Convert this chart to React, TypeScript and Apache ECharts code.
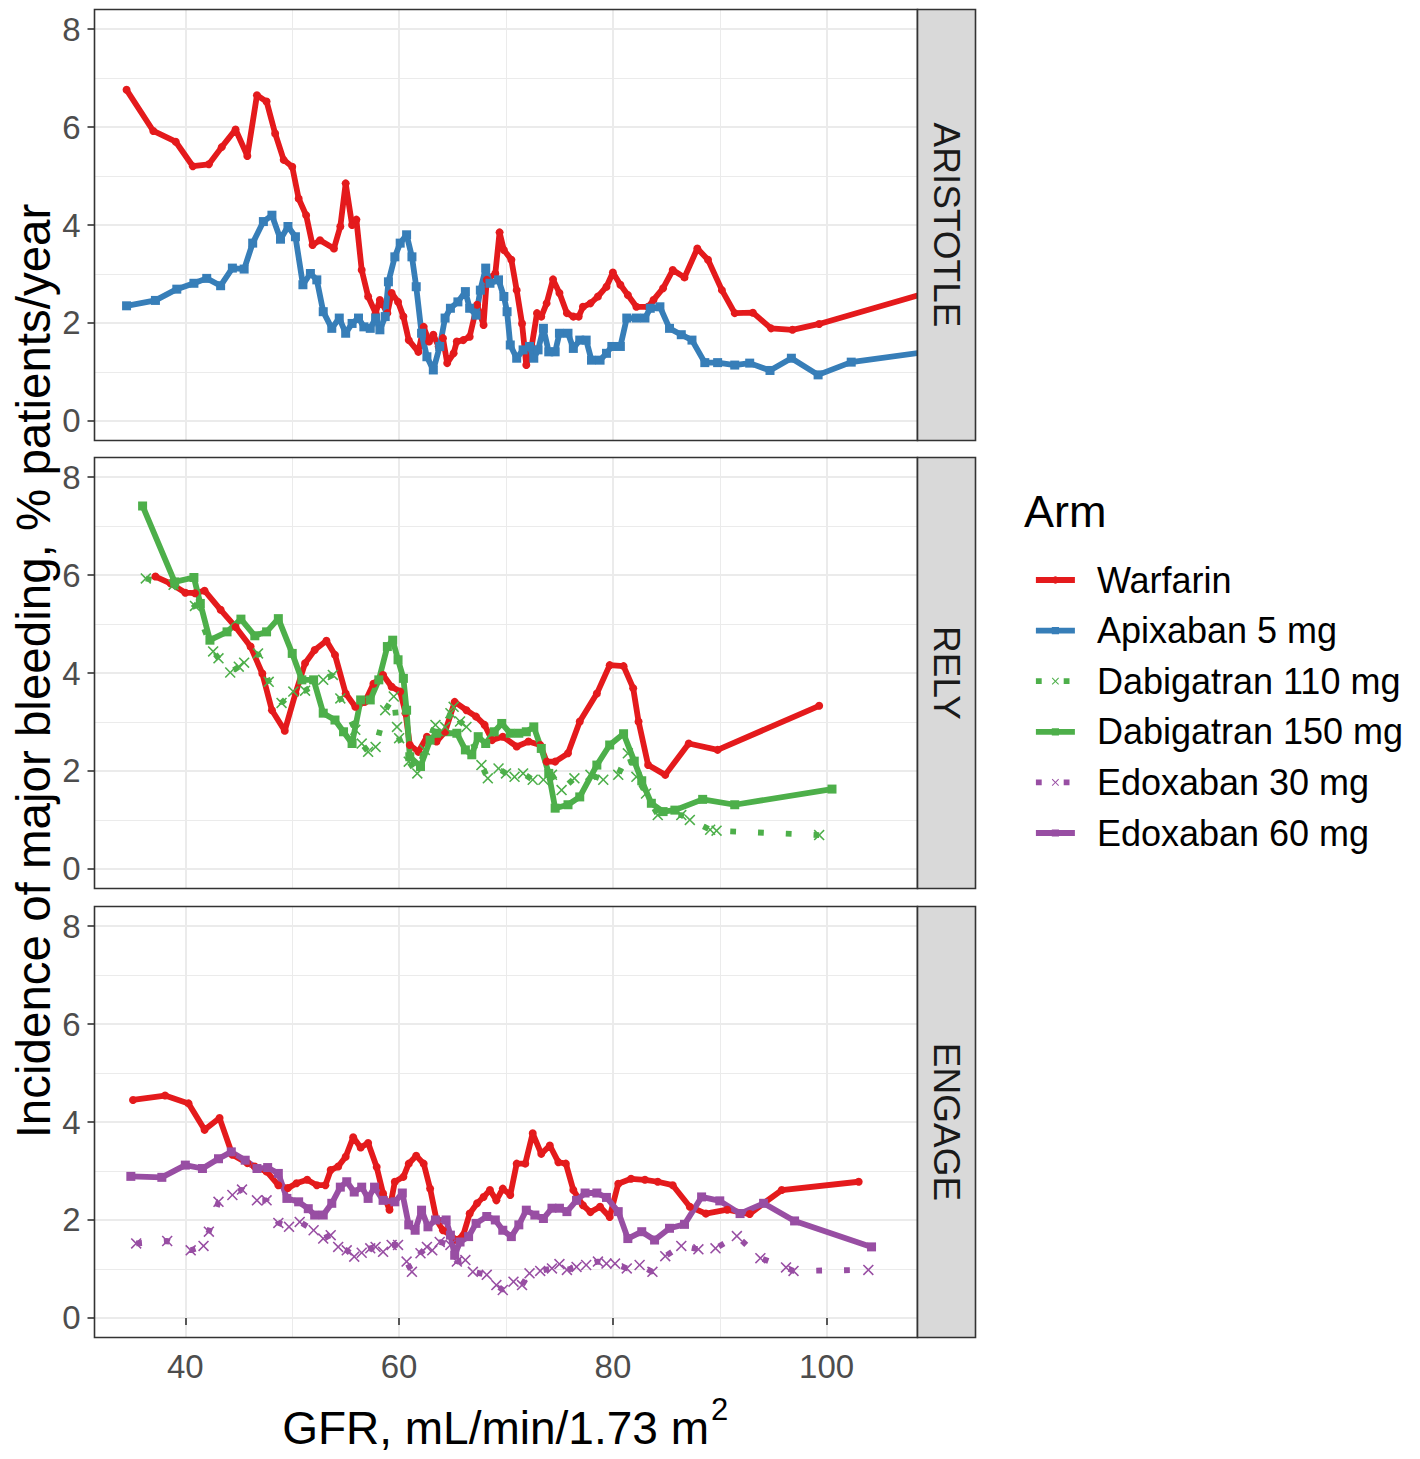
import React, { useEffect, useRef } from 'react';
import * as echarts from 'echarts';

const FONT = '"Liberation Sans", Arial, Helvetica, sans-serif';

// axis ranges (coord limits with 5% expansion) and ticks
const X_MIN = 31.5;
const X_MAX = 108.5;
const Y_MIN = -0.4;
const Y_MAX = 8.4;
const xTicks = [40, 60, 80, 100];
const yTicks = [0, 2, 4, 6, 8];

const panels = ['ARISTOTLE', 'RELY', 'ENGAGE'];
const arms = ['Warfarin', 'Apixaban 5 mg', 'Dabigatran 110 mg', 'Dabigatran 150 mg', 'Edoxaban 30 mg', 'Edoxaban 60 mg'];

// ---------- data: [GFR, incidence] ----------
const aristotleWarfarin = [
  [34.5, 6.76], [37.0, 5.92], [39.1, 5.70], [40.7, 5.20], [42.2, 5.24], [43.4, 5.59], [44.7, 5.95], [45.8, 5.41],
  [46.7, 6.65], [47.6, 6.52], [48.4, 5.87], [49.2, 5.33], [50.0, 5.19], [50.6, 4.54], [51.3, 4.20], [51.9, 3.59],
  [52.6, 3.69], [53.9, 3.52], [54.5, 3.97], [55.0, 4.85], [55.6, 4.00], [56.0, 4.11], [56.5, 3.08], [57.1, 2.54],
  [57.8, 2.20], [58.2, 2.47], [58.9, 2.20], [59.3, 2.61], [59.9, 2.43], [60.4, 2.13], [60.9, 1.65], [61.8, 1.41],
  [62.3, 1.92], [62.8, 1.62], [63.2, 1.76], [63.7, 1.52], [64.1, 1.69], [64.5, 1.18], [65.1, 1.38], [65.4, 1.62],
  [66.0, 1.65], [66.6, 1.72], [67.3, 2.37], [67.9, 1.96], [68.2, 2.88], [69.0, 3.01], [69.4, 3.85], [69.8, 3.49],
  [70.5, 3.29], [71.0, 2.67], [71.5, 1.99], [71.9, 1.14], [72.4, 1.52], [72.9, 2.20], [73.3, 2.13], [73.8, 2.40],
  [74.4, 2.89], [75.0, 2.61], [75.7, 2.20], [76.3, 2.13], [76.8, 2.13], [77.2, 2.33], [77.9, 2.40], [78.6, 2.54],
  [79.4, 2.74], [80.0, 3.03], [80.7, 2.78], [81.4, 2.57], [82.2, 2.33], [83.3, 2.33], [83.8, 2.47], [84.7, 2.71],
  [85.6, 3.08], [86.7, 2.93], [87.9, 3.52], [88.9, 3.29], [90.2, 2.67], [91.4, 2.20], [93.1, 2.21], [94.8, 1.89],
  [96.8, 1.86], [99.3, 1.98], [112.0, 2.78],
];
const aristotleApixaban = [
  [34.5, 2.35], [37.2, 2.46], [39.2, 2.69], [40.8, 2.81], [42.0, 2.91], [43.3, 2.76], [44.4, 3.12], [45.5, 3.10],
  [46.3, 3.63], [47.3, 4.07], [48.1, 4.20], [48.9, 3.71], [49.6, 3.97], [50.3, 3.76], [51.0, 2.78], [51.7, 3.01],
  [52.3, 2.88], [52.9, 2.23], [53.7, 1.89], [54.4, 2.10], [55.0, 1.79], [55.6, 1.99], [56.2, 2.10], [56.7, 1.92],
  [57.3, 1.89], [57.8, 2.10], [58.2, 1.86], [58.7, 2.13], [59.0, 2.84], [59.6, 3.35], [60.1, 3.63], [60.7, 3.80],
  [61.2, 3.35], [61.6, 2.74], [62.1, 1.79], [62.6, 1.31], [63.2, 1.04], [63.8, 1.52], [64.3, 2.10], [64.8, 2.30],
  [65.5, 2.43], [66.2, 2.64], [66.6, 2.30], [67.2, 2.16], [67.6, 2.67], [68.1, 3.12], [68.5, 2.81], [69.3, 2.88],
  [69.8, 2.54], [70.1, 2.23], [70.4, 1.55], [71.0, 1.28], [71.6, 1.45], [72.2, 1.52], [72.6, 1.28], [73.0, 1.45],
  [73.5, 1.89], [74.0, 1.41], [74.6, 1.41], [75.0, 1.79], [75.8, 1.79], [76.3, 1.48], [76.9, 1.65], [77.5, 1.65],
  [78.0, 1.24], [78.8, 1.24], [79.4, 1.38], [79.9, 1.52], [80.7, 1.52], [81.3, 2.10], [82.2, 2.10], [83.0, 2.10],
  [83.5, 2.30], [84.4, 2.33], [85.3, 1.89], [86.4, 1.76], [87.4, 1.65], [88.6, 1.19], [89.8, 1.19], [91.4, 1.14],
  [92.8, 1.18], [94.7, 1.03], [96.7, 1.28], [99.2, 0.94], [102.3, 1.20], [112.0, 1.49],
];
const relyWarfarin = [
  [37.2, 5.97], [38.6, 5.83], [40.0, 5.64], [40.9, 5.63], [41.8, 5.68], [43.3, 5.29], [44.7, 4.94], [46.1, 4.54],
  [47.2, 3.99], [48.1, 3.24], [49.3, 2.82], [50.3, 3.58], [51.2, 4.20], [52.1, 4.47], [53.2, 4.66], [54.0, 4.37],
  [55.0, 3.58], [55.9, 3.31], [56.8, 3.41], [57.6, 3.78], [58.5, 3.96], [59.3, 3.72], [60.1, 3.62], [60.6, 3.18],
  [61.0, 2.53], [61.8, 2.39], [62.6, 2.70], [63.5, 2.60], [64.3, 2.80], [65.2, 3.41], [66.3, 3.24], [67.2, 3.11],
  [68.0, 2.94], [68.7, 2.63], [69.7, 2.70], [71.0, 2.50], [72.1, 2.60], [73.2, 2.53], [73.8, 2.19], [74.6, 2.19],
  [75.8, 2.36], [76.9, 3.01], [78.5, 3.58], [79.7, 4.16], [81.0, 4.14], [81.9, 3.69], [82.4, 3.01], [83.3, 2.12],
  [84.9, 1.92], [87.1, 2.56], [89.8, 2.43], [99.3, 3.33],
];
const relyDabigatran110 = [
  [36.3, 5.93], [38.9, 5.80], [40.9, 5.37], [42.6, 4.44], [43.1, 4.30], [44.2, 4.01], [45.0, 4.13], [45.5, 4.21],
  [46.8, 4.40], [47.8, 3.82], [49.0, 3.39], [50.1, 3.62], [51.2, 3.64], [52.9, 3.86], [53.8, 3.96], [54.5, 3.48],
  [55.9, 2.84], [56.5, 2.56], [57.1, 2.39], [57.8, 2.49], [58.7, 3.24], [59.5, 3.52], [59.8, 2.90], [60.0, 2.67],
  [60.9, 2.19], [61.7, 1.95], [62.4, 2.43], [63.4, 2.94], [64.3, 2.90], [64.8, 3.18], [65.1, 3.31], [65.7, 3.01],
  [66.3, 2.90], [67.7, 2.12], [68.3, 1.85], [69.3, 2.05], [70.0, 1.95], [70.8, 1.88], [71.6, 1.95], [72.5, 1.82],
  [73.5, 1.82], [74.3, 1.92], [75.2, 1.61], [76.4, 1.85], [77.9, 1.92], [79.1, 1.82], [80.5, 1.92], [81.4, 2.36],
  [82.2, 1.88], [83.1, 1.54], [84.2, 1.10], [86.4, 1.10], [87.2, 1.00], [89.1, 0.80], [89.7, 0.78], [99.3, 0.69],
];
const relyDabigatran150 = [
  [36.0, 7.41], [39.0, 5.86], [40.8, 5.95], [41.4, 5.42], [42.3, 4.67], [43.9, 4.84], [45.2, 5.10], [46.5, 4.76],
  [47.6, 4.84], [48.7, 5.11], [50.0, 4.40], [50.9, 3.86], [52.0, 3.86], [52.9, 3.18], [54.0, 3.04], [54.8, 2.80],
  [55.6, 2.56], [56.4, 3.45], [57.3, 3.45], [58.1, 3.86], [58.9, 4.54], [59.4, 4.67], [59.9, 4.27], [60.4, 3.89],
  [60.7, 3.24], [61.0, 2.29], [62.0, 2.09], [62.9, 2.63], [63.5, 2.77], [65.4, 2.77], [66.2, 2.43], [66.8, 2.33],
  [67.4, 2.70], [68.1, 2.56], [68.9, 2.80], [69.6, 2.97], [70.4, 2.77], [71.2, 2.77], [71.9, 2.80], [72.6, 2.90],
  [73.3, 2.46], [74.0, 1.95], [74.6, 1.24], [75.8, 1.31], [76.9, 1.47], [78.5, 2.12], [79.7, 2.53], [81.0, 2.76],
  [82.0, 2.20], [82.7, 1.80], [83.6, 1.34], [84.7, 1.17], [85.8, 1.20], [88.4, 1.42], [91.4, 1.31], [100.5, 1.63],
];
const engageWarfarin = [
  [35.1, 4.45], [38.1, 4.54], [40.3, 4.38], [41.8, 3.84], [43.2, 4.08], [44.4, 3.33], [45.8, 3.16], [46.5, 3.09],
  [47.6, 2.99], [48.7, 2.71], [49.6, 2.65], [50.4, 2.75], [51.4, 2.82], [52.3, 2.71], [53.1, 2.71], [53.6, 3.02],
  [54.3, 3.09], [55.0, 3.29], [55.7, 3.69], [56.4, 3.48], [57.1, 3.57], [57.9, 3.08], [58.5, 2.54], [59.1, 2.21],
  [59.6, 2.78], [60.4, 2.88], [60.9, 3.15], [61.6, 3.31], [62.3, 3.15], [62.9, 2.64], [63.5, 2.00], [64.1, 1.79],
  [64.8, 1.69], [65.4, 1.59], [66.0, 1.69], [66.6, 2.13], [67.3, 2.34], [67.9, 2.47], [68.5, 2.61], [69.1, 2.40],
  [69.7, 2.64], [70.4, 2.51], [71.0, 3.15], [71.8, 3.15], [72.5, 3.77], [73.3, 3.35], [74.1, 3.52], [74.9, 3.18],
  [75.6, 3.15], [76.3, 2.61], [77.2, 2.30], [77.9, 2.16], [78.8, 2.27], [79.7, 2.06], [80.5, 2.74], [81.7, 2.84],
  [83.0, 2.82], [84.2, 2.78], [85.6, 2.71], [87.2, 2.27], [88.7, 2.13], [90.7, 2.21], [92.8, 2.12], [94.1, 2.34],
  [95.8, 2.61], [103.0, 2.78],
];
const engageEdoxaban30 = [
  [35.4, 1.52], [38.3, 1.57], [40.5, 1.38], [41.7, 1.47], [42.2, 1.76], [43.1, 2.37], [44.4, 2.51], [45.3, 2.62],
  [46.7, 2.40], [47.6, 2.40], [48.7, 1.94], [49.7, 1.86], [50.7, 1.96], [52.0, 1.79], [52.9, 1.62], [53.6, 1.69],
  [54.3, 1.45], [55.1, 1.38], [55.8, 1.25], [56.5, 1.33], [57.3, 1.42], [57.8, 1.45], [58.5, 1.35], [59.3, 1.49],
  [59.9, 1.49], [60.7, 1.15], [61.2, 0.94], [62.0, 1.32], [62.6, 1.45], [63.1, 1.38], [63.8, 1.55], [64.8, 1.49],
  [65.4, 1.15], [66.2, 1.18], [66.9, 0.94], [68.2, 0.88], [69.1, 0.67], [69.7, 0.57], [70.7, 0.74], [71.5, 0.67],
  [72.2, 0.91], [73.2, 0.96], [74.3, 1.01], [75.0, 1.10], [75.7, 0.98], [76.6, 1.04], [77.5, 1.08], [78.6, 1.15],
  [79.4, 1.11], [80.2, 1.11], [81.3, 1.01], [82.5, 1.08], [83.7, 0.94], [84.9, 1.26], [86.4, 1.47], [88.0, 1.40],
  [89.6, 1.42], [91.6, 1.67], [93.8, 1.22], [96.2, 1.03], [96.9, 0.96], [103.9, 0.98],
];
const engageEdoxaban60 = [
  [34.9, 2.89], [37.8, 2.87], [40.0, 3.12], [41.6, 3.05], [43.1, 3.25], [44.3, 3.39], [45.6, 3.22], [46.7, 3.05],
  [47.7, 3.07], [48.7, 2.95], [49.5, 2.44], [50.6, 2.37], [51.5, 2.23], [52.1, 2.10], [52.9, 2.10], [53.7, 2.34],
  [54.5, 2.67], [55.1, 2.78], [55.8, 2.57], [56.5, 2.67], [57.1, 2.44], [57.7, 2.67], [58.5, 2.40], [59.6, 2.37],
  [60.3, 2.55], [60.9, 1.90], [61.5, 1.79], [62.1, 2.20], [62.7, 1.86], [63.4, 2.00], [64.4, 2.00], [64.8, 1.69],
  [65.2, 1.28], [65.7, 1.55], [66.5, 1.66], [67.2, 1.93], [68.2, 2.07], [69.0, 2.00], [69.7, 1.79], [70.5, 1.66],
  [71.2, 1.90], [71.9, 2.20], [72.7, 2.10], [73.5, 2.03], [74.3, 2.24], [75.0, 2.24], [75.7, 2.17], [76.6, 2.40],
  [77.4, 2.55], [78.5, 2.55], [79.4, 2.46], [80.5, 2.17], [81.4, 1.62], [82.7, 1.76], [83.9, 1.59], [85.3, 1.83],
  [86.7, 1.91], [88.3, 2.47], [90.0, 2.39], [91.9, 2.13], [94.1, 2.34], [97.0, 1.98], [104.2, 1.45],
];

// ---------- styling ----------
const CROSS = 'path://M0,1L1,0L5,4L9,0L10,1L6,5L10,9L9,10L5,6L1,10L0,9L4,5Z';
const armStyle: Record<string, { color: string; symbol: string; size: number; dotted: boolean }> = {
  'Warfarin': { color: '#E41A1C', symbol: 'circle', size: 8, dotted: false },
  'Apixaban 5 mg': { color: '#377EB8', symbol: 'rect', size: 9, dotted: false },
  'Dabigatran 110 mg': { color: '#4DAF4A', symbol: CROSS, size: 11, dotted: true },
  'Dabigatran 150 mg': { color: '#4DAF4A', symbol: 'rect', size: 9, dotted: false },
  'Edoxaban 30 mg': { color: '#984EA3', symbol: CROSS, size: 11, dotted: true },
  'Edoxaban 60 mg': { color: '#984EA3', symbol: 'rect', size: 9, dotted: false },
};
const LINE_W = 5.8;

const GRID_LEFT = 94.5;
const GRID_W = 823;
const GRID_H = 431;
const gridTops = [9.5, 457.5, 906.5];
const STRIP_W = 58;

function makeSeries(name: string, data: number[][], panel: number) {
  const s = armStyle[name];
  return {
    type: 'line',
    name,
    xAxisIndex: panel,
    yAxisIndex: panel,
    data,
    symbol: s.symbol,
    symbolSize: s.size,
    symbolKeepAspect: true,
    showSymbol: true,
    clip: true,
    lineStyle: { color: s.color, width: LINE_W, type: s.dotted ? [LINE_W, 22] : 'solid', cap: 'butt' },
    itemStyle: { color: s.color, borderWidth: 0 },
    emphasis: { disabled: true },
    silent: true,
  };
}

export default function App() {
  const ref = useRef<HTMLDivElement>(null);
  useEffect(() => {
    if (!ref.current) return;
    const chart = echarts.init(ref.current, undefined, { renderer: 'svg' });

    const grids = gridTops.map((top) => ({
      left: GRID_LEFT, top, width: GRID_W, height: GRID_H,
      show: true, backgroundColor: '#FFFFFF', borderWidth: 0,
      containLabel: false, outerBoundsMode: 'none',
    }));

    const xAxes = gridTops.map((_, i) => ({
      type: 'value', gridIndex: i, min: X_MIN, max: X_MAX,
      minInterval: 20, maxInterval: 20,
      axisLine: { show: false },
      axisTick: { show: i === 2, length: 7, lineStyle: { color: '#333333', width: 1.6 }, customValues: xTicks },
      axisLabel: {
        show: i === 2, customValues: xTicks, margin: 12, color: '#4D4D4D', fontSize: 33, fontFamily: FONT,
        formatter: (v: number) => (xTicks.includes(Math.round(v * 1000) / 1000) ? String(v) : ''),
      },
      splitLine: { show: true, lineStyle: { color: '#EBEBEB', width: 2 } },
      minorTick: { show: false, splitNumber: 2 },
      minorSplitLine: { show: true, lineStyle: { color: '#EBEBEB', width: 1 } },
    }));

    const yAxes = gridTops.map((_, i) => ({
      type: 'value', gridIndex: i, min: Y_MIN, max: Y_MAX,
      minInterval: 2, maxInterval: 2,
      axisLine: { show: false },
      axisTick: { show: true, length: 7, lineStyle: { color: '#333333', width: 1.6 }, customValues: yTicks },
      axisLabel: {
        show: true, customValues: yTicks, margin: 14, color: '#4D4D4D', fontSize: 33, fontFamily: FONT,
        formatter: (v: number) => (yTicks.includes(Math.round(v * 1000) / 1000) ? String(v) : ''),
      },
      splitLine: { show: true, lineStyle: { color: '#EBEBEB', width: 2 } },
      minorTick: { show: false, splitNumber: 2 },
      minorSplitLine: { show: true, lineStyle: { color: '#EBEBEB', width: 1 } },
    }));

    const series = [
      makeSeries('Warfarin', aristotleWarfarin, 0),
      makeSeries('Apixaban 5 mg', aristotleApixaban, 0),
      makeSeries('Warfarin', relyWarfarin, 1),
      makeSeries('Dabigatran 110 mg', relyDabigatran110, 1),
      makeSeries('Dabigatran 150 mg', relyDabigatran150, 1),
      makeSeries('Warfarin', engageWarfarin, 2),
      makeSeries('Edoxaban 30 mg', engageEdoxaban30, 2),
      makeSeries('Edoxaban 60 mg', engageEdoxaban60, 2),
    ];

    const graphics: any[] = [];
    gridTops.forEach((top, i) => {
      graphics.push({
        type: 'rect', z: 100, silent: true,
        shape: { x: GRID_LEFT, y: top, width: GRID_W, height: GRID_H },
        style: { fill: 'none', stroke: '#333333', lineWidth: 1.6 },
      });
      graphics.push({
        type: 'rect', z: 100, silent: true,
        shape: { x: GRID_LEFT + GRID_W, y: top, width: STRIP_W, height: GRID_H },
        style: { fill: '#D9D9D9', stroke: '#333333', lineWidth: 1.6 },
      });
      graphics.push({
        type: 'text', z: 101, silent: true,
        x: GRID_LEFT + GRID_W + STRIP_W / 2, y: top + GRID_H / 2,
        rotation: -Math.PI / 2,
        style: { text: panels[i], fill: '#1A1A1A', fontSize: 37, fontFamily: FONT, align: 'center', verticalAlign: 'middle' },
      });
    });
    graphics.push({
      type: 'text', z: 101, silent: true, x: 33, y: 671, rotation: Math.PI / 2,
      style: { text: 'Incidence of major bleeding, % patients/year', fill: '#000000', fontSize: 47.5, fontFamily: FONT, align: 'center', verticalAlign: 'middle' },
    });
    graphics.push({
      type: 'text', z: 101, silent: true, x: 709, y: 1428,
      style: { text: 'GFR, mL/min/1.73 m', fill: '#000000', fontSize: 46, fontFamily: FONT, align: 'right', verticalAlign: 'middle' },
    });
    graphics.push({
      type: 'text', z: 101, silent: true, x: 711, y: 1409,
      style: { text: '2', fill: '#000000', fontSize: 31, fontFamily: FONT, align: 'left', verticalAlign: 'middle' },
    });
    graphics.push({
      type: 'text', z: 101, silent: true, x: 1024, y: 511,
      style: { text: 'Arm', fill: '#000000', fontSize: 45, fontFamily: FONT, align: 'left', verticalAlign: 'middle' },
    });

    chart.setOption({
      animation: false,
      backgroundColor: '#FFFFFF',
      grid: grids,
      xAxis: xAxes,
      yAxis: yAxes,
      legend: {
        data: arms,
        orient: 'vertical',
        left: 1028,
        top: 557,
        itemWidth: 39,
        itemHeight: 9,
        itemGap: 14.6,
        selectedMode: false,
        lineStyle: { width: LINE_W },
        textStyle: { fontSize: 36, lineHeight: 36, fontFamily: FONT, color: '#000000', padding: [0, 0, 0, 17] },
      },
      series,
      graphic: graphics,
    });
    return () => chart.dispose();
  }, []);

  return (
    <div
      ref={ref}
      style={{ position: 'fixed', left: 0, top: 0, width: 1420, height: 1459, background: '#FFFFFF' }}
    />
  );
}
